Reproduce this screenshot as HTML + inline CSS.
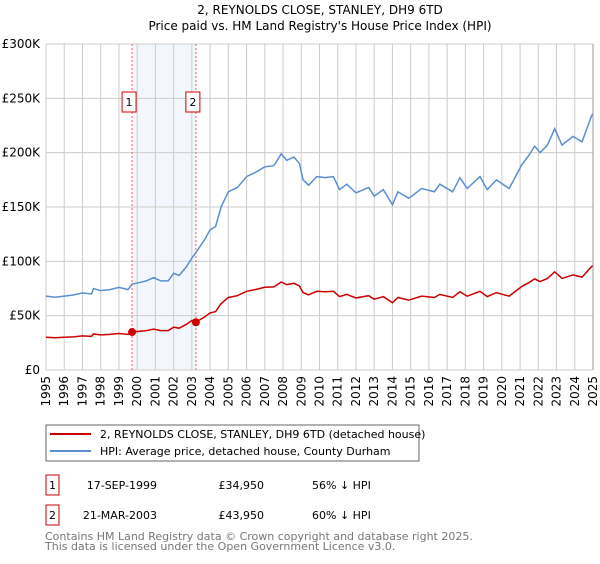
<!DOCTYPE html>
<html><head><meta charset="utf-8"><style>
body{margin:0;background:#fff;font-family:"DejaVu Sans","Liberation Sans",sans-serif}
svg text{font-family:"DejaVu Sans","Liberation Sans",sans-serif}
</style></head><body>
<svg id="c" width="600" height="560" viewBox="0 0 600 560">
<text x="320" y="14" text-anchor="middle" font-size="12">2, REYNOLDS CLOSE, STANLEY, DH9 6TD</text>
<text x="320" y="30" text-anchor="middle" font-size="12">Price paid vs. HM Land Registry's House Price Index (HPI)</text>
<g id="grid"></g><g id="marks"></g>
<rect x="46" y="425" width="373" height="36" fill="#fff" stroke="#666"/>
<line x1="50" y1="434" x2="91" y2="434" stroke="#cc0000" stroke-width="2"/>
<text x="100" y="438" font-size="11">2, REYNOLDS CLOSE, STANLEY, DH9 6TD (detached house)</text>
<line x1="50" y1="451" x2="91" y2="451" stroke="#5b8fd0" stroke-width="2"/>
<text x="100" y="455" font-size="11">HPI: Average price, detached house, County Durham</text>
<g font-size="11">
<rect x="46" y="475" width="13" height="20" fill="#fff" stroke="#cc0000"/>
<text x="52.5" y="489" text-anchor="middle">1</text>
<text x="157" y="489" text-anchor="end">17-SEP-1999</text>
<text x="264" y="489" text-anchor="end">£34,950</text>
<text x="312" y="489">56% ↓ HPI</text>
<rect x="46" y="505" width="13" height="20" fill="#fff" stroke="#cc0000"/>
<text x="52.5" y="519" text-anchor="middle">2</text>
<text x="157" y="519" text-anchor="end">21-MAR-2003</text>
<text x="264" y="519" text-anchor="end">£43,950</text>
<text x="312" y="519">60% ↓ HPI</text>
</g>
<text x="45" y="540" font-size="11" fill="#777">Contains HM Land Registry data © Crown copyright and database right 2025.</text>
<text x="45" y="550" font-size="11" fill="#777">This data is licensed under the Open Government Licence v3.0.</text>
</svg>
<script>
const hpiYears=[1995,1995.5,1996,1996.5,1997,1997.5,1997.6,1998,1998.5,1999,1999.5,1999.72,2000,2000.5,2000.9,2001.3,2001.7,2002,2002.3,2002.7,2003,2003.22,2003.7,2004,2004.3,2004.6,2005,2005.5,2006,2006.5,2007,2007.5,2007.9,2008.2,2008.6,2008.9,2009.1,2009.4,2009.85,2010.3,2010.76,2011.1,2011.5,2012,2012.7,2013,2013.5,2014,2014.3,2014.9,2015.6,2016.3,2016.6,2017.3,2017.7,2018.1,2018.8,2019.2,2019.7,2020.4,2021.1,2021.5,2021.8,2022.1,2022.5,2022.9,2023.3,2023.9,2024.4,2024.9,2025];
const hpiValues=[68,67,68,69,71,70,75,73,74,76,74,79,80,82,85,82,82,89,87,95,103,108,120,129,132,150,164,168,178,182,187,188,199,193,196,190,175,170,178,177,178,166,171,163,168,160,166,152,164,158,167,164,171,164,177,167,178,166,175,167,189,198,206,200,207,222,207,215,210,233,236];
const saleYears=[1999.72,2003.22];
const salePrices=[34950,43950];
const yTicks=[0,50000,100000,150000,200000,250000,300000];
const yTickLabels=["£0","£50K","£100K","£150K","£200K","£250K","£300K"];
const xTicks=[1995,1996,1997,1998,1999,2000,2001,2002,2003,2004,2005,2006,2007,2008,2009,2010,2011,2012,2013,2014,2015,2016,2017,2018,2019,2020,2021,2022,2023,2024,2025];
const X0=46,X1=593,Y0=370,Y1=44;
const xs=y=>X0+(y-1995)/30*(X1-X0);
const ys=v=>Y0-v/300000*(Y0-Y1);
const NS="http://www.w3.org/2000/svg";
function mk(p,t,a){const e=document.createElementNS(NS,t);for(const k in a)e.setAttribute(k,a[k]);p.appendChild(e);return e;}
const grid=document.getElementById('grid'),marks=document.getElementById('marks');
const band=mk(grid,'rect',{x:xs(saleYears[0]),y:Y1,width:xs(saleYears[1])-xs(saleYears[0]),height:Y0-Y1,fill:'#eef3fc',opacity:0.7});


xTicks.forEach((t,i)=>{
 const l=mk(grid,'line',{x1:xs(t),x2:xs(t),y1:Y1,y2:Y0,stroke:'#ccc'});
 
 
 const tx=mk(grid,'text',{x:0,y:0,'font-size':12,'text-anchor':'end',transform:`translate(${xs(t)+4},${Y0+6}) rotate(-90)`});
 tx.textContent=t;
 
 
});
yTicks.forEach((t,i)=>{
 const l=mk(grid,'line',{x1:X0,x2:X1,y1:ys(t),y2:ys(t),stroke:'#ccc'});
 
 
 const tx=mk(grid,'text',{x:X0-6,y:ys(t)+4,'font-size':12,'text-anchor':'end'});
 tx.textContent=yTickLabels[i];
 
 
});
function interp(y){for(let i=1;i<hpiYears.length;i++){if(y<=hpiYears[i]){const f=(y-hpiYears[i-1])/(hpiYears[i]-hpiYears[i-1]);return (hpiValues[i-1]+f*(hpiValues[i]-hpiValues[i-1]))*1000;}}return hpiValues[hpiValues.length-1]*1000;}
const f1=salePrices[0]/interp(saleYears[0]),f2=salePrices[1]/interp(saleYears[1]);
const hp=mk(marks,'polyline',{points:hpiYears.map((y,i)=>xs(y)+','+ys(hpiValues[i]*1000)).join(' '),fill:'none',stroke:'#5b8fd0','stroke-width':1.5});


const rp=mk(marks,'polyline',{points:hpiYears.map((y,i)=>xs(y)+','+ys(hpiValues[i]*1000*(y<saleYears[1]?f1:f2))).join(' '),fill:'none',stroke:'#cc0000','stroke-width':1.5});


saleYears.forEach((y,i)=>{
 const l=mk(marks,'line',{x1:xs(y),x2:xs(y),y1:Y1,y2:Y0,stroke:'#f06060','stroke-dasharray':'2,2'});
 
 
 const c=mk(marks,'circle',{cx:xs(y),cy:ys(salePrices[i]),r:4,fill:'#cc0000'});
 
 
 const r=mk(marks,'rect',{x:xs(y)-10,y:92,width:14,height:20,fill:'#fff',stroke:'#cc0000'});
 
 
 const t=mk(marks,'text',{x:xs(y)-3,y:106,'font-size':11,'text-anchor':'middle'});
 t.textContent=i+1;
 
 
});
const ax=mk(marks,'line',{x1:X1,x2:X1,y1:Y1,y2:Y0,stroke:'#999'});


</script>
</body></html>
